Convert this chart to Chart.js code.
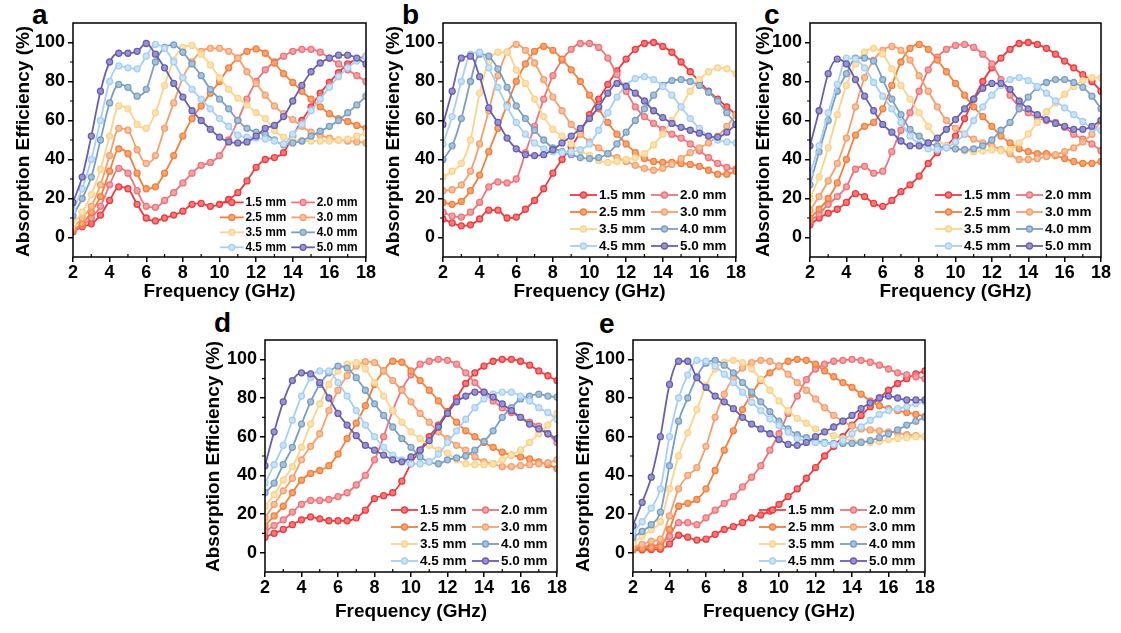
<!DOCTYPE html>
<html lang="en">
<head>
<meta charset="UTF-8">
<title>Absorption efficiency vs frequency</title>
<script src="https://cdn.jsdelivr.net/npm/chart.js"></script>
<style>
  body { margin: 0; background: #fff; }
  #stage { position: relative; width: 1121px; height: 633px; overflow: hidden; }
  #stage canvas { position: absolute; }
  .tag { position: absolute; font: bold 28px "Liberation Sans", Arial, sans-serif; line-height: 28px; color: #000; }
</style>
</head>
<body>
<div id="stage">
  <div class="tag" style="left:32px;top:1px">a</div>
  <div class="tag" style="left:402px;top:1px">b</div>
  <div class="tag" style="left:764px;top:1px">c</div>
  <div class="tag" style="left:214px;top:309px">d</div>
  <div class="tag" style="left:599px;top:310px">e</div>
</div>

<script>
// frequency grid (GHz) and thickness labels
const freq = [2, 2.5, 3, 3.5, 4, 4.5, 5, 5.5, 6, 6.5, 7, 7.5, 8, 8.5, 9, 9.5, 10, 10.5, 11, 11.5, 12, 12.5, 13, 13.5, 14, 14.5, 15, 15.5, 16, 16.5, 17, 17.5, 18];
const thickness = ['1.5 mm', '2.0 mm', '2.5 mm', '3.0 mm', '3.5 mm', '4.0 mm', '4.5 mm', '5.0 mm'];
const xTicks = [2, 4, 6, 8, 10, 12, 14, 16, 18];
const xMinor = [3, 5, 7, 9, 11, 13, 15, 17];
const yTicks = [0, 20, 40, 60, 80, 100];
const yMinor = [10, 30, 50, 70, 90];

// panel a
const a15 = [3, 5.5, 7, 11.5, 19, 26, 25, 17, 10, 8.5, 10, 11.5, 13.5, 17, 17.5, 16, 17, 19.5, 23, 29, 36, 40, 41, 43.5, 52, 60, 67, 74, 79.5, 84.5, 89, 91.5, 93];
const a20 = [3.5, 6, 10, 16, 27, 35.5, 33, 24, 16, 15.5, 19, 23, 28, 33, 37, 38.5, 42, 50, 60, 71, 80, 86, 90, 93, 95.5, 96.5, 96.5, 95, 92, 89, 86, 83, 80];
const a25 = [4, 7, 13, 21, 34, 45.5, 43, 33, 25, 26, 33, 42, 52, 61, 67.5, 74, 80, 87, 92, 95.5, 96.7, 94.5, 89.5, 84, 79.5, 75, 71, 67, 63.5, 61, 59.5, 57.5, 56];
const a30 = [5, 10, 16, 27, 42, 56, 55, 45, 38, 42, 56, 69, 82, 90, 95.5, 97, 97, 95.5, 92, 85, 79, 73, 67.5, 63.5, 60.5, 57, 54, 52.5, 51, 50, 49.5, 49, 48.5];
const a35 = [7, 13, 22, 35, 52, 67.5, 66, 58, 56, 64, 78, 91, 97.5, 98.5, 94, 88.5, 82, 76, 71.5, 68, 64, 61, 55, 51.5, 50, 49.5, 49.5, 49.5, 49.5, 50, 50.5, 52, 53.5];
const a40 = [11, 20, 31, 50, 69, 78.5, 77, 72.5, 76, 90, 97.5, 98.8, 95, 89, 83, 76, 71, 66, 60, 56, 54, 53, 50, 47.5, 48.5, 49.5, 52, 54.5, 57, 60, 64, 68, 72.5];
const a45 = [14, 25, 40, 60, 80, 88, 87, 86.5, 93, 99, 97, 90, 82, 76, 71, 66, 61, 57, 52.5, 51.5, 51, 50.5, 49.5, 48, 53, 58, 65, 71, 77, 82.5, 87, 90.5, 93];
const a50 = [18, 31, 52, 75, 90, 94.5, 94.5, 95.5, 99.5, 94, 87, 79, 72, 65, 60, 55.5, 51.5, 49, 48.5, 49, 52, 56, 57.5, 62, 70, 78, 85, 89.5, 92, 93.5, 93.5, 92, 89];

// panel b
const b15 = [9.5, 7.5, 6, 6.5, 9.5, 14, 14, 10, 10.5, 14.5, 19, 25, 33, 40, 46.5, 54, 63, 71, 78.5, 85.5, 91.5, 96.5, 99.5, 100, 98, 95, 90, 85, 80, 75, 71, 67, 63];
const b20 = [13, 11, 10.5, 13, 18, 26, 28.5, 28, 30, 43.5, 57, 71, 83, 91, 96.5, 99.5, 99.5, 97.5, 92, 83.5, 75, 67, 62, 58.5, 55.5, 53, 51, 48, 44.5, 41, 38, 36, 35];
const b25 = [18, 17, 18.5, 24, 32, 44, 56, 68, 80, 89, 95.5, 98, 96, 91.5, 86, 80, 73, 66, 59, 53, 48, 43.5, 40.5, 39, 38.5, 38.5, 38, 37.5, 36.5, 34.5, 32.5, 32.5, 34];
const b30 = [24, 24.5, 27, 34, 48, 65, 83, 95, 99, 96, 89.5, 81, 72, 65, 58, 53, 49, 46, 43, 41, 39, 37, 35.5, 34.5, 35.5, 37.5, 40.5, 43.5, 46, 48.5, 52, 57, 63];
const b35 = [31, 34, 38, 50, 74, 90, 95, 95, 86, 79, 71, 62, 55.5, 52, 48, 44.5, 42, 39.5, 38.5, 39, 40, 41, 43, 47.5, 53, 60, 67, 75, 81, 85, 87, 86.5, 84];
const b40 = [40, 47, 61, 80, 94, 93, 86.5, 77, 67.5, 61, 55, 50, 46, 44, 42.5, 41, 40.5, 41, 43, 48, 54, 60, 66, 73, 78, 80.5, 81, 80, 78, 74.5, 70, 64, 58];
const b45 = [48, 62, 80, 94, 95, 87, 77, 67, 59, 53, 48.5, 45.5, 44, 43.5, 44, 45, 48, 55, 64, 72, 78, 81.5, 82.5, 81, 77.5, 73, 67, 61, 56, 52, 50, 49, 48.5];
const b50 = [58, 75, 92, 93, 82.5, 66.5, 59, 51, 45.5, 42.5, 42, 42.5, 45, 48.5, 52, 56, 61, 67, 74, 79, 77.5, 74, 70, 65, 61.5, 58.5, 56.5, 55, 53.5, 52, 51.5, 54, 58];

// panel c
const c15 = [6.5, 10, 12.5, 14.5, 18, 22.5, 21, 17.5, 16, 19, 23.5, 27, 31.5, 38, 43.5, 47, 52, 61, 71, 80, 87, 92, 96.5, 99.5, 100, 99, 97, 94, 90.5, 87, 83.5, 80, 75];
const c20 = [8.5, 12, 17, 21, 26, 35, 36.5, 33, 34, 44, 55, 64, 75, 86, 92.5, 96.5, 98.5, 99, 97.5, 94, 89, 81, 73, 67, 64, 61.5, 60, 59, 56.5, 53, 50.5, 48, 44.5];
const c25 = [10, 14.5, 20, 28, 40, 52.5, 57, 59, 66, 78, 90, 97, 99, 96.5, 91, 85, 79, 73, 67, 62, 57, 52, 48.5, 45.5, 44, 43, 43, 42, 40.5, 39, 38, 38, 39];
const c30 = [14, 21, 29, 38, 51, 67, 82, 91, 96, 98, 96, 91, 83, 75, 67, 60, 56, 53, 50.5, 48.5, 47, 45, 43, 40, 40, 40.5, 41.5, 42.5, 44, 46, 49, 53, 60];
const c35 = [20, 31, 46, 63, 78, 89, 95, 97, 94, 86.5, 78, 71, 64, 57, 50.5, 47, 45.5, 44.5, 44, 44.5, 45, 44.5, 45, 48.5, 53, 59, 64.5, 69, 73.5, 77.5, 80.5, 82, 82];
const c40 = [27, 44, 60, 75, 84, 92, 92, 90.5, 81, 71, 63, 55.5, 52, 48.5, 47, 46, 45.5, 45, 45.5, 47, 50, 55, 59, 66, 72, 77, 79.5, 81, 81, 79.5, 77, 72.5, 66];
const c45 = [33, 47, 64, 78.5, 92, 91.5, 87, 79.5, 72.5, 66, 59, 52, 48, 45.5, 45, 46, 49, 53, 60, 67, 73, 78, 81, 82, 80.5, 77.5, 74, 70, 66.5, 63, 59.5, 56, 55];
const c50 = [47, 65, 84, 91.5, 89, 81, 72.5, 65, 58, 54, 49.5, 47, 47, 48.5, 51, 55.5, 60.5, 66, 71, 76.5, 79, 79, 76, 70, 66, 63, 60.5, 58.5, 57, 55.5, 55.5, 57, 60];

// panel d
const d15 = [8, 10, 12, 14.5, 17, 18.5, 17.5, 16.5, 16.5, 16.5, 18, 22, 28, 29.5, 31, 37, 46, 53, 60, 66, 73, 80, 87.5, 93, 96.5, 99, 100, 100, 99, 97, 94, 91.5, 89];
const d20 = [11, 14, 17, 21, 25, 27, 27, 27.5, 29, 31, 35, 40, 48, 60, 73.5, 84.5, 92, 97.5, 99, 100, 99.5, 97.5, 93, 88, 83, 78.5, 75, 72.5, 70, 67.5, 65.5, 61.5, 57];
const d25 = [14, 19, 24, 31, 37.5, 41, 42.5, 45, 51, 59, 67, 76, 87, 94, 99, 98.5, 94, 89, 84, 78.5, 72.5, 67.5, 63, 60, 57, 54.5, 52, 50.5, 49.5, 48.5, 47, 45.5, 43.5];
const d30 = [18, 25, 32, 38.5, 48, 55, 61.5, 73.5, 84, 91.5, 96.5, 98.8, 98.3, 94, 89, 84, 78, 72, 67.5, 62.5, 59, 55.5, 53, 49.5, 47, 46, 44.5, 44.5, 45, 45.5, 46, 46.5, 48];
const d35 = [24, 30, 37.5, 44.5, 54.5, 66.5, 77, 87, 94, 97.5, 98.3, 95, 88, 81, 73.5, 67.5, 62.5, 59, 55.5, 53, 51.5, 48, 46, 45.5, 45.5, 46, 48, 50.5, 53, 57, 61.5, 66, 72];
const d40 = [31, 36, 45.5, 54.5, 66.5, 78, 87, 93, 96.5, 95.5, 90.5, 84, 77, 71, 65, 59, 54.5, 49.5, 47, 46, 48, 49, 50, 53, 57.5, 63, 70, 75, 79.5, 81, 82, 81, 80.5];
const d45 = [36, 45.5, 55.5, 68.5, 81, 90.5, 94, 94, 88, 81, 73.5, 66, 60, 54.5, 50.5, 48, 46, 46, 47, 51, 57, 63, 69, 75, 79.5, 82, 83, 83, 81, 78.5, 75, 72.5, 69];
const d50 = [45, 62.5, 78, 89, 93, 92.5, 88, 80, 72, 66, 60.5, 55.5, 53, 50.5, 48, 47, 49.5, 53, 58, 65, 72, 78, 81, 83, 83, 80.5, 77, 73.5, 70, 66.5, 64, 61.5, 59];

// panel e
const e15 = [1.5, 1.5, 1.7, 1.8, 4.5, 9, 8, 6.5, 7, 9.5, 12, 13.5, 15.5, 18, 19.5, 21.5, 25, 29, 33, 38.5, 44, 50, 55, 60, 66, 71, 75.5, 80, 84, 87.5, 90, 92.5, 94];
const e20 = [2.5, 3, 3.5, 4.5, 8.5, 15.5, 15.5, 14.5, 18, 22, 25.5, 29, 34, 39, 45, 53, 61.5, 72, 81, 89.5, 95, 97.5, 99, 99.5, 100, 99.5, 98.5, 97, 95, 93, 92, 91, 90];
const e25 = [1.7, 2.2, 2.6, 3, 12, 24, 25.5, 27.5, 33, 42.5, 53, 63, 74, 82, 89, 93, 96.5, 99, 100, 99.5, 97.5, 94, 91, 88, 85.5, 82, 78.5, 76, 74.5, 73.5, 72.5, 71.5, 70.5];
const e30 = [3, 4.3, 6, 7, 19, 33, 40, 44, 55, 70, 82, 90.5, 95.5, 98.3, 99.5, 99, 96.5, 92.3, 88, 84, 79.5, 75, 71, 68, 65.5, 64, 63.5, 63, 62.5, 62, 61, 60.5, 60];
const e35 = [5, 8.5, 12, 16, 33, 50, 62, 74, 86.5, 95, 98.5, 99.5, 98.3, 95, 89.7, 84, 78.5, 73.5, 69.5, 67, 64, 62.5, 60.5, 59, 58, 57.5, 57, 57.5, 58.5, 59, 59.5, 60, 60];
const e40 = [8, 11, 14.5, 21, 45, 68, 80, 91, 98, 99.5, 97, 93, 88, 83, 78, 73, 68, 64, 61, 59.5, 58, 57, 56.5, 56.5, 56.5, 57, 58, 59.5, 61.5, 63.5, 66, 68, 70];
const e45 = [10.5, 16, 23, 33, 60, 80, 92, 99.5, 99, 96.5, 92.3, 88, 83, 77.8, 73.5, 69.2, 65.8, 62.4, 59, 58, 57, 56.5, 56, 58, 61.5, 65, 68.5, 71.5, 73.5, 74.5, 75.5, 77, 78];
const e50 = [14, 26, 39, 60, 87, 99, 99, 90.5, 85.5, 81, 78, 74.5, 70, 66.5, 64, 61.5, 58.5, 56, 55.5, 57, 60, 62.5, 65, 68, 71, 74.5, 77.5, 80, 81, 80, 79, 79, 79];

// styles
const lineColors = ['#ef3a3e', '#ef7379', '#f47e3a', '#f5a06c', '#fbd38a', '#7a9fc2', '#a6cff5', '#6760b2'];
const markerFill = ['#f57a7d', '#f5a2a6', '#f8a576', '#f9c19d', '#fde3b4', '#a9c2db', '#cce3f9', '#9994cf'];

// plot boxes in page pixels
const panels = [
  { series: [a15, a20, a25, a30, a35, a40, a45, a50], L: 73, R: 366, T: 23, B: 257, xTitleY: 292, yTitleX: 23, legendScale: 0.88 },
  { series: [b15, b20, b25, b30, b35, b40, b45, b50], L: 443, R: 736, T: 23, B: 257, xTitleY: 292, yTitleX: 393, legendScale: 1 },
  { series: [c15, c20, c25, c30, c35, c40, c45, c50], L: 810, R: 1101, T: 23, B: 257, xTitleY: 292, yTitleX: 763, legendScale: 1 },
  { series: [d15, d20, d25, d30, d35, d40, d45, d50], L: 265, R: 557, T: 340, B: 572, xTitleY: 612, yTitleX: 213, legendScale: 1 },
  { series: [e15, e20, e25, e30, e35, e40, e45, e50], L: 633, R: 925, T: 340, B: 572, xTitleY: 612, yTitleX: 583, legendScale: 1 }
];

Chart.defaults.font.family = '"Liberation Sans", Arial, Helvetica, sans-serif';
Chart.defaults.color = '#000';

// box around the plot + short minor ticks
const frameTicks = {
  id: 'frameTicks',
  afterDatasetsDraw(chart) {
    const { ctx, chartArea: { left, right, top, bottom }, scales: { x, y } } = chart;
    ctx.save();
    ctx.strokeStyle = '#000';
    ctx.lineWidth = 1.5;
    ctx.strokeRect(left, top, right - left, bottom - top);
    ctx.lineWidth = 1.2;
    ctx.beginPath();
    xMinor.forEach(v => {
      const px = x.getPixelForValue(v);
      ctx.moveTo(px, bottom);
      ctx.lineTo(px, bottom - 3);
    });
    yMinor.forEach(v => {
      const py = y.getPixelForValue(v);
      ctx.moveTo(left, py);
      ctx.lineTo(left - 3, py);
    });
    ctx.stroke();
    ctx.restore();
  }
};

// two-column legend inside the lower right corner
const thicknessLegend = {
  id: 'thicknessLegend',
  afterDatasetsDraw(chart, args, opts) {
    const { ctx, chartArea: { right, bottom } } = chart;
    const k = opts.scale || 1;
    ctx.save();
    ctx.font = `bold ${13.5 * k}px "Liberation Sans", Arial, sans-serif`;
    ctx.textBaseline = 'middle';
    ctx.textAlign = 'left';
    chart.data.datasets.forEach((ds, i) => {
      const col = i % 2;
      const row = Math.floor(i / 2);
      const y = bottom - (62 - 17 * row) * k;
      const x0 = right - (col === 0 ? 166 : 85) * k;
      const x1 = right - (col === 0 ? 139 : 58) * k;
      ctx.strokeStyle = ds.borderColor;
      ctx.lineWidth = 1.8;
      ctx.beginPath();
      ctx.moveTo(x0, y);
      ctx.lineTo(x1, y);
      ctx.stroke();
      ctx.beginPath();
      ctx.arc((x0 + x1) / 2, y, 3, 0, Math.PI * 2);
      ctx.fillStyle = ds.pointBackgroundColor;
      ctx.fill();
      ctx.lineWidth = 1.3;
      ctx.stroke();
      ctx.fillStyle = '#000';
      ctx.fillText(ds.label, right - (col === 0 ? 137 : 56) * k, y);
    });
    ctx.restore();
  }
};

const stage = document.getElementById('stage');

panels.forEach(p => {
  const left = Math.round(p.yTitleX - 13);
  const top = p.T - 20;
  const right = p.R + 14;
  const bottom = p.xTitleY + 13;
  const yW = p.L - left;
  const xH = bottom - p.B;

  const cv = document.createElement('canvas');
  cv.width = right - left;
  cv.height = bottom - top;
  cv.style.left = left + 'px';
  cv.style.top = top + 'px';
  stage.appendChild(cv);

  const datasets = p.series.map((arr, i) => ({
    label: thickness[i],
    data: freq.map((f, j) => ({ x: f, y: arr[j] })),
    borderColor: lineColors[i],
    backgroundColor: lineColors[i],
    pointBackgroundColor: markerFill[i],
    pointBorderColor: lineColors[i],
    pointRadius: 3,
    pointBorderWidth: 1.3,
    borderWidth: 1.8,
    cubicInterpolationMode: 'monotone',
    order: thickness.length - i
  }));

  new Chart(cv, {
    type: 'line',
    data: { datasets },
    options: {
      responsive: false,
      animation: false,
      devicePixelRatio: 1,
      layout: { padding: { top: 20, right: 14, left: 0, bottom: 0 } },
      plugins: {
        legend: { display: false },
        tooltip: { enabled: false },
        thicknessLegend: { scale: p.legendScale }
      },
      scales: {
        x: {
          type: 'linear',
          min: 2,
          max: 18,
          afterBuildTicks: s => { s.ticks = xTicks.map(v => ({ value: v })); },
          afterFit: s => { s.height = xH; },
          ticks: { font: { size: 18, weight: 'bold' }, color: '#000', padding: 0, maxRotation: 0, autoSkip: false },
          grid: { drawOnChartArea: false, drawTicks: true, tickLength: 5, color: '#000', lineWidth: 1.5 },
          border: { display: false },
          title: { display: true, text: 'Frequency (GHz)', font: { size: 19, weight: 'bold' }, color: '#000', padding: { top: 0, bottom: 2 } }
        },
        y: {
          min: -10,
          max: 110,
          afterBuildTicks: s => { s.ticks = yTicks.map(v => ({ value: v })); },
          afterFit: s => { s.width = yW; },
          ticks: { font: { size: 18, weight: 'bold' }, color: '#000', padding: 3 },
          grid: { drawOnChartArea: false, drawTicks: true, tickLength: 5, color: '#000', lineWidth: 1.5 },
          border: { display: false },
          title: { display: true, text: 'Absorption Efficiency (%)', align: 'start', font: { size: 19, weight: 'bold' }, color: '#000', padding: { top: 2, bottom: 0 } }
        }
      }
    },
    plugins: [frameTicks, thicknessLegend]
  });
});
</script>
</body>
</html>
